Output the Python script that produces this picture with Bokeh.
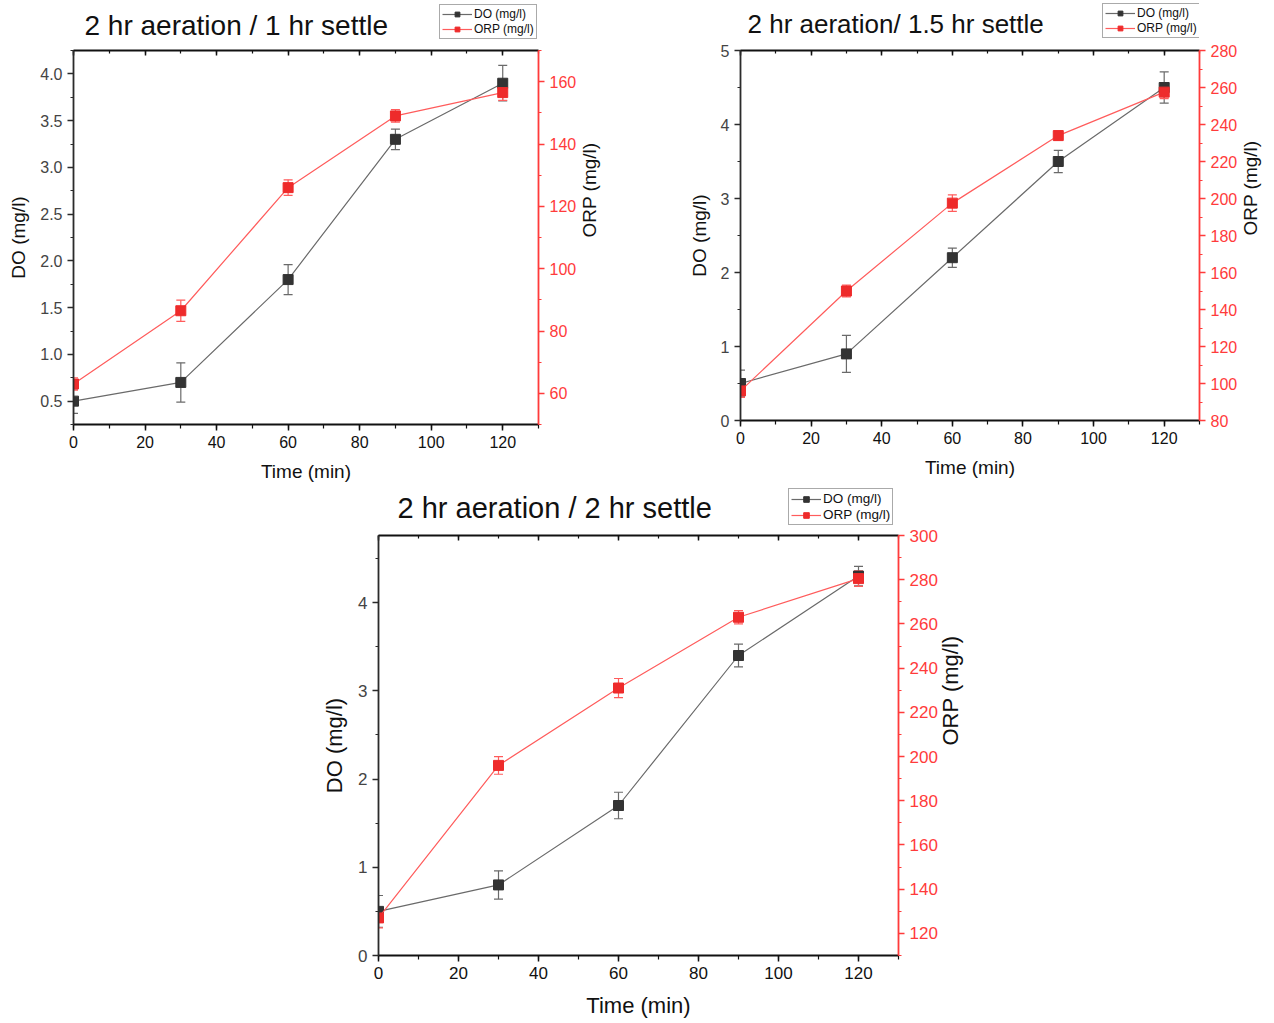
import math
from bokeh.plotting import figure
from bokeh.models import (Range1d, LinearAxis, SingleIntervalTicker, Whisker, TeeHead,
                          ColumnDataSource, Legend, LegendItem, Label,
                          CustomJSTickFormatter, NumeralTickFormatter, Spacer)
from bokeh.layouts import row, column
from bokeh.embed import file_html
from bokeh.resources import INLINE

# ---------------- data ----------------
time_min = [0, 30, 60, 90, 120]

x_label = "Time (min)"
do_label = "DO (mg/l)"
orp_label = "ORP (mg/l)"

title_1 = "2 hr aeration / 1 hr settle"
do_1 = [0.5, 0.7, 1.8, 3.3, 3.9]
do_err_1 = [0.13, 0.21, 0.16, 0.11, 0.19]
orp_1 = [63, 86.5, 126, 149, 156.5]
orp_err_1 = [2.0, 3.4, 2.5, 2.0, 2.5]

title_2 = "2 hr aeration/ 1.5 hr settle"
do_2 = [0.5, 0.9, 2.2, 3.5, 4.5]
do_err_2 = [0.18, 0.25, 0.13, 0.15, 0.21]
orp_2 = [96, 150, 197.5, 234, 257.5]
orp_err_2 = [3.5, 3.2, 4.5, 2.5, 3.5]

title_3 = "2 hr aeration / 2 hr settle"
do_3 = [0.5, 0.8, 1.7, 3.4, 4.3]
do_err_3 = [0.18, 0.16, 0.15, 0.13, 0.11]
orp_3 = [127, 196, 231, 263, 280.5]
orp_err_3 = [4.5, 4.0, 4.3, 3.0, 3.5]

# axis ranges / tick steps
x_range_all = (0, 130)
x_step = 20
do_range_1, do_step_1, do_fmt_1 = (0.25, 4.25), 0.5, "0.0"
orp_range_1, orp_step_1 = (50, 170), 20
do_range_2, do_step_2, do_fmt_2 = (0, 5), 1, "0"
orp_range_2, orp_step_2 = (80, 280), 20
do_range_3, do_step_3, do_fmt_3 = (0, 4.76), 1, "0"
orp_range_3, orp_step_3 = (110, 300), 20

# ---------------- style ----------------
FONT = "Liberation Sans"
AX_DARK = "#2b2b2b"
DO_MARK = "#333333"
DO_LINE = "#6a6a6a"
RED_AX = "#ff3b3b"
RED_MARK = "#ee2b2b"
RED_LINE = "#ff5c5c"


def make_header(title, width, height, title_size, title_pos, legend_pos, legend_font,
                legend_rowh):
    h = figure(width=width, height=height, output_backend="svg", toolbar_location=None,
               x_range=Range1d(0, 1), y_range=Range1d(0, 1),
               x_axis_type=None, y_axis_type=None, min_border=0)
    h.outline_line_color = None
    h.grid.visible = False
    h.background_fill_color = "white"
    h.border_fill_color = "white"
    # legend proxies: one point placed outside the (0..1) header ranges
    proxy = ColumnDataSource(dict(x=[-5.0], y=[-5.0]))
    l_do = h.line("x", "y", source=proxy, line_color=DO_LINE, line_width=1.2)
    s_do = h.scatter("x", "y", source=proxy, marker="square", size=7,
                     fill_color=DO_MARK, line_color=DO_MARK)
    l_orp = h.line("x", "y", source=proxy, line_color=RED_LINE, line_width=1.2)
    s_orp = h.scatter("x", "y", source=proxy, marker="square", size=7,
                      fill_color=RED_MARK, line_color=RED_MARK)
    legend = Legend(items=[LegendItem(label=do_label, renderers=[l_do, s_do]),
                           LegendItem(label=orp_label, renderers=[l_orp, s_orp])],
                    location=legend_pos, orientation="vertical",
                    label_text_font=FONT, label_text_font_size=legend_font,
                    label_text_color="#111111",
                    glyph_width=30, glyph_height=legend_rowh, label_height=legend_rowh,
                    label_standoff=2, padding=2, spacing=1, margin=0,
                    border_line_color="#555555", border_line_width=1,
                    background_fill_color="white", background_fill_alpha=1)
    h.add_layout(legend, "center")
    h.add_layout(Label(x=title_pos[0], y=title_pos[1], x_units="screen", y_units="screen",
                       text=title, text_font=FONT, text_font_size=title_size,
                       text_color="#111111", text_baseline="middle", text_align="left"))
    return h


def make_chart(do, do_err, orp, orp_err, do_rng, do_step, do_fmt,
               orp_rng, orp_step, width, height, bl, br, bt, bb,
               tick_size, label_size, xlabel_standoff):
    p = figure(width=width, height=height, output_backend="svg", toolbar_location=None,
               x_range=Range1d(*x_range_all), y_range=Range1d(*do_rng),
               x_axis_type=None, y_axis_type=None,
               min_border_left=bl, min_border_right=br,
               min_border_top=bt, min_border_bottom=bb)
    p.outline_line_color = None
    p.background_fill_color = "white"
    p.border_fill_color = "white"
    p.extra_y_ranges = {"orp": Range1d(*orp_rng)}

    def base_style(ax, line_color, label_color, lw):
        ax.axis_line_color = line_color
        ax.axis_line_width = lw
        ax.major_tick_line_color = line_color
        ax.minor_tick_line_color = line_color
        ax.major_tick_line_width = 1.5
        ax.minor_tick_line_width = 1.2
        ax.major_label_text_font = FONT
        ax.major_label_text_font_size = tick_size
        ax.major_label_text_color = label_color
        ax.axis_label_text_font = FONT
        ax.axis_label_text_font_size = label_size
        ax.axis_label_text_font_style = "normal"
        ax.axis_label_text_color = "#111111"

    # bottom axis
    xa = LinearAxis(ticker=SingleIntervalTicker(interval=x_step, num_minor_ticks=2),
                    axis_label=x_label)
    base_style(xa, "#111111", "#111111", 2)
    xa.major_tick_in, xa.major_tick_out = 0, 6
    xa.minor_tick_in, xa.minor_tick_out = 0, 4
    xa.axis_label_standoff = xlabel_standoff
    p.add_layout(xa, "below")

    # top axis (ticks only)
    ta = LinearAxis(ticker=SingleIntervalTicker(interval=x_step, num_minor_ticks=2),
                    formatter=CustomJSTickFormatter(code="return ''"))
    base_style(ta, "#111111", "#111111", 2)
    ta.major_label_text_font_size = "1px"
    ta.major_tick_in, ta.major_tick_out = 5, 0
    ta.minor_tick_in, ta.minor_tick_out = 3, 0
    ta.major_label_standoff = 0
    p.add_layout(ta, "above")

    # left axis
    ya = LinearAxis(ticker=SingleIntervalTicker(interval=do_step, num_minor_ticks=2),
                    formatter=NumeralTickFormatter(format=do_fmt), axis_label=do_label)
    base_style(ya, AX_DARK, "#444444", 1.8)
    ya.major_tick_in, ya.major_tick_out = 0, 6
    ya.minor_tick_in, ya.minor_tick_out = 0, 3
    ya.axis_label_standoff = 8
    p.add_layout(ya, "left")

    # right axis
    ra = LinearAxis(y_range_name="orp", axis_label=orp_label,
                    ticker=SingleIntervalTicker(interval=orp_step, num_minor_ticks=2))
    base_style(ra, RED_AX, RED_AX, 1.8)
    ra.major_tick_in, ra.major_tick_out = 0, 6
    ra.minor_tick_in, ra.minor_tick_out = 0, 3
    ra.axis_label_standoff = 10
    ra.axis_label_orientation = math.pi / 2
    p.add_layout(ra, "right")

    src = ColumnDataSource(dict(
        t=time_min, do=do, orp=orp,
        do_lo=[v - e for v, e in zip(do, do_err)],
        do_hi=[v + e for v, e in zip(do, do_err)],
        orp_lo=[v - e for v, e in zip(orp, orp_err)],
        orp_hi=[v + e for v, e in zip(orp, orp_err)],
    ))

    w_do = Whisker(source=src, base="t", lower="do_lo", upper="do_hi",
                   line_color=DO_LINE, line_width=1.2,
                   lower_head=TeeHead(size=9, line_color=DO_LINE, line_width=1.2),
                   upper_head=TeeHead(size=9, line_color=DO_LINE, line_width=1.2))
    p.add_layout(w_do)
    w_orp = Whisker(source=src, base="t", lower="orp_lo", upper="orp_hi",
                    y_range_name="orp",
                    line_color=RED_LINE, line_width=1.2,
                    lower_head=TeeHead(size=9, line_color=RED_LINE, line_width=1.2),
                    upper_head=TeeHead(size=9, line_color=RED_LINE, line_width=1.2))
    p.add_layout(w_orp)

    p.line("t", "do", source=src, line_color=DO_LINE, line_width=1.2)
    p.scatter("t", "do", source=src, marker="square", size=10,
              fill_color=DO_MARK, line_color=DO_MARK)
    p.line("t", "orp", source=src, y_range_name="orp", line_color=RED_LINE, line_width=1.2)
    p.scatter("t", "orp", source=src, y_range_name="orp", marker="square",
              size=10, fill_color=RED_MARK, line_color=RED_MARK)
    return p


# header frames are aligned with the chart frames below them (column alignment)
h1 = make_header(title_1, width=630, height=40, title_size="28px", title_pos=(11, 15),
                 legend_pos=(366, 1), legend_font="12px", legend_rowh=12)
p1 = make_chart(do_1, do_err_1, orp_1, orp_err_1, do_range_1, do_step_1, do_fmt_1,
                orp_range_1, orp_step_1, width=630, height=446, bl=73, br=92, bt=10, bb=62,
                tick_size="16px", label_size="19px", xlabel_standoff=10)

h2 = make_header(title_2, width=644, height=40, title_size="26px", title_pos=(7, 17),
                 legend_pos=(362, 2), legend_font="12px", legend_rowh=12)
p2 = make_chart(do_2, do_err_2, orp_2, orp_err_2, do_range_2, do_step_2, do_fmt_2,
                orp_range_2, orp_step_2, width=644, height=446, bl=110, br=75, bt=10, bb=66,
                tick_size="16px", label_size="19px", xlabel_standoff=10)

h3 = make_header(title_3, width=698, height=41, title_size="29px", title_pos=(19, 20),
                 legend_pos=(410, 2), legend_font="13.5px", legend_rowh=14)
p3 = make_chart(do_3, do_err_3, orp_3, orp_err_3, do_range_3, do_step_3, do_fmt_3,
                orp_range_3, orp_step_3, width=698, height=496, bl=78, br=100, bt=8, bb=68,
                tick_size="17px", label_size="22px", xlabel_standoff=11)

layout = column(row(column(h1, p1), column(h2, p2)),
                row(Spacer(width=300, height=10), column(h3, p3)))

open("out.html", "w").write(file_html(layout, INLINE))
